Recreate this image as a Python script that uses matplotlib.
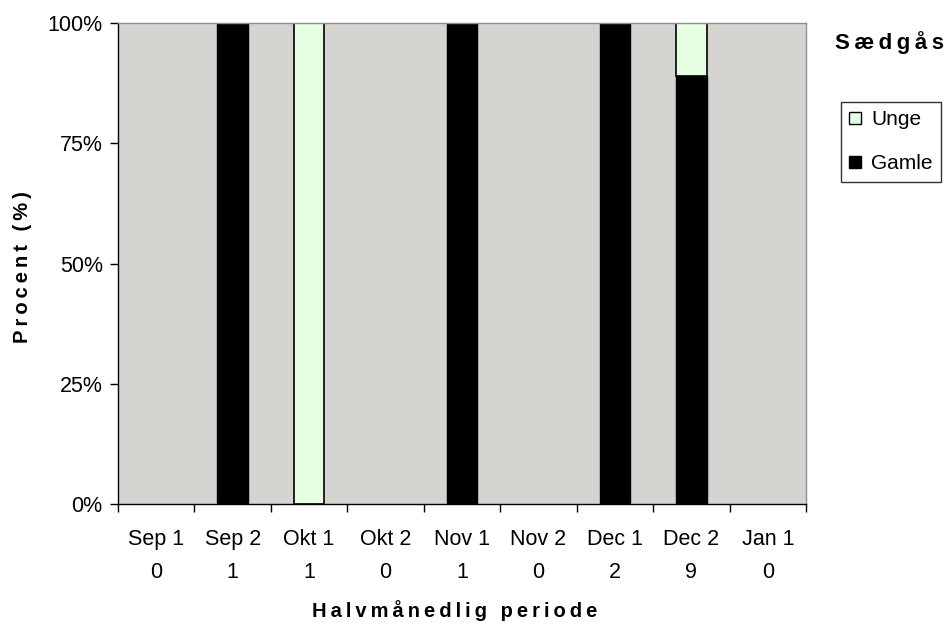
import numpy as np
import matplotlib.pyplot as plt
from matplotlib.patches import Patch

plt.rcParams['font.family'] = ['Liberation Sans', 'DejaVu Sans']

# half-month periods and number of aged birds
periods = ['Sep 1', 'Sep 2', 'Okt 1', 'Okt 2', 'Nov 1', 'Nov 2', 'Dec 1', 'Dec 2', 'Jan 1']
unge = np.array([0, 0, 1, 0, 0, 0, 0, 1, 0])
gamle = np.array([0, 1, 0, 0, 1, 0, 2, 8, 0])
total = unge + gamle

safe = np.where(total > 0, total, 1)
pct_gamle = gamle / safe * 100
pct_unge = unge / safe * 100


def spaced(s):
    # the original titles are letter-spaced
    return '\u2009'.join(s)


fig = plt.figure(figsize=(9.47, 6.28), dpi=100)
ax = fig.add_axes([118/947, 1 - 504/628, 688/947, 481/628])
ax.set_facecolor('#d4d5d0')

x = np.arange(len(periods))
w = 0.4
green = '#e6ffe2'
for i in x:
    if gamle[i] > 0:
        ax.bar(i, pct_gamle[i], w, color='black', edgecolor='black', linewidth=1)
    if unge[i] > 0:
        ax.bar(i, pct_unge[i], w, bottom=pct_gamle[i], color=green,
               edgecolor='black', linewidth=1.2)

ax.set_xlim(-0.5, len(periods) - 0.5)
ax.set_ylim(0, 100)
ax.set_yticks([0, 25, 50, 75, 100])
ax.set_yticklabels(['0%', '25%', '50%', '75%', '100%'])
ax.tick_params(axis='y', length=6, width=1, labelsize=15.5, pad=5)

ax.set_xticks(x)
ax.set_xticklabels([f'{p}\n{n}' for p, n in zip(periods, total)], linespacing=1.75)
ax.tick_params(axis='x', which='major', length=0, labelsize=15.5, pad=18)
ax.set_xticks(np.arange(-0.5, len(periods)), minor=True)
ax.tick_params(axis='x', which='minor', length=6, width=1)

for s in ['top', 'right']:
    ax.spines[s].set_color('#909090')
    ax.spines[s].set_linewidth(1)
for s in ['left', 'bottom']:
    ax.spines[s].set_color('black')
    ax.spines[s].set_linewidth(1)

fig.text(22/947, 1 - 267/628, spaced('Procent (%)'), rotation=90, ha='center', va='center',
         fontsize=14.5, fontweight='bold')
fig.text(455/947, 1 - 617/628, spaced('Halvmånedlig periode'), ha='center', va='baseline',
         fontsize=14.5, fontweight='bold')
fig.text(835/947, 1 - 43/628, spaced('Sædgås'), ha='left', va='center',
         fontsize=16, fontweight='bold')

handles = [Patch(facecolor=green, edgecolor='black', label='Unge'),
           Patch(facecolor='black', edgecolor='black', label='Gamle')]
leg = fig.legend(handles=handles, loc='upper left', bbox_to_anchor=(841/947, 1 - 102/628),
                 fontsize=15, frameon=True, fancybox=False, edgecolor='black',
                 handlelength=0.55, handleheight=0.55, handletextpad=0.5,
                 borderpad=0.4, labelspacing=1.2, borderaxespad=0)
leg.get_frame().set_linewidth(1)

fig.savefig('out.png', dpi=100)
